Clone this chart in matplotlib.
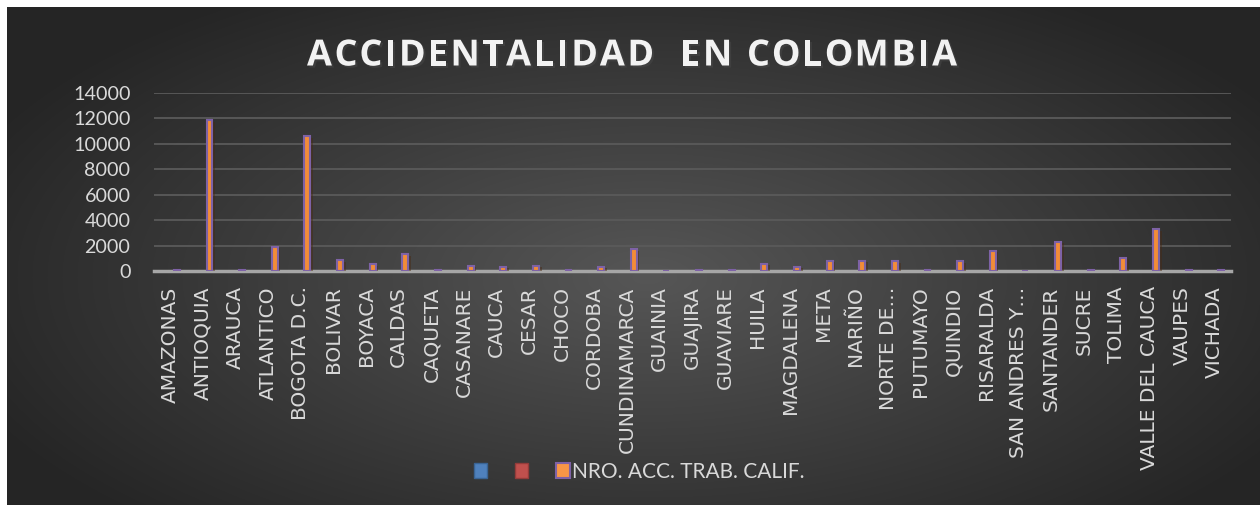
import numpy as np
import matplotlib.pyplot as plt
import matplotlib.patheffects as pe
from matplotlib.patches import Patch, Rectangle

departamentos = ['AMAZONAS', 'ANTIOQUIA', 'ARAUCA', 'ATLANTICO', 'BOGOTA D.C.',
                 'BOLIVAR', 'BOYACA', 'CALDAS', 'CAQUETA', 'CASANARE', 'CAUCA',
                 'CESAR', 'CHOCO', 'CORDOBA', 'CUNDINAMARCA', 'GUAINIA', 'GUAJIRA',
                 'GUAVIARE', 'HUILA', 'MAGDALENA', 'META', 'NARIÑO', 'NORTE DE…',
                 'PUTUMAYO', 'QUINDIO', 'RISARALDA', 'SAN ANDRES Y…', 'SANTANDER',
                 'SUCRE', 'TOLIMA', 'VALLE DEL CAUCA', 'VAUPES', 'VICHADA']

nro_acc = [60, 11850, 60, 1880, 10580, 850, 540, 1300, 100, 430, 320, 430, 90,
           320, 1700, 20, 40, 60, 580, 345, 820, 820, 770, 40, 770, 1590, 20,
           2280, 60, 1030, 3285, 50, 60]

leyenda = ['', '', 'NRO. ACC. TRAB. CALIF.']
y_ticks = [0, 2000, 4000, 6000, 8000, 10000, 12000, 14000]
titulo = 'ACCIDENTALIDAD  EN COLOMBIA'

W, H = 1260, 505
fig = plt.figure(figsize=(W / 100, H / 100), dpi=100, facecolor='white')

# fondo con degradado radial
fig.patches.append(Rectangle((7 / W, 0), 1, 1 - 7 / H, transform=fig.transFigure,
                             facecolor='#262626', edgecolor='none', zorder=-10))
bg = fig.add_axes([7 / W, 0, 1 - 7 / W, 1 - 7 / H])
bg.set_axis_off()
yy, xx = np.mgrid[0:498, 0:1253]
r = np.sqrt(((xx - 640) / 720) ** 2 + ((yy - 270) / 330) ** 2)
r = np.clip(r, 0, 1)
c = (0x56 + (0x26 - 0x56) * r) / 255
bg.imshow(np.dstack([c, c, c]), aspect='auto', extent=[0, 1, 0, 1])
bg.set_xlim(0, 1)
bg.set_ylim(0, 1)

ax = fig.add_axes([154 / W, 1 - 271 / H, (1231 - 154) / W, (271 - 93) / H])
ax.set_facecolor('none')

x = np.arange(len(departamentos))
ax.bar(x + 0.2, nro_acc, width=0.18, color='#F28C38', edgecolor='#7E62A6',
       linewidth=1.5, zorder=3,
       path_effects=[pe.SimplePatchShadow(offset=(2, -1), alpha=0.45), pe.Normal()])

ax.set_xlim(-0.5, len(departamentos) - 0.5)
ax.set_ylim(0, 14000)
ax.set_yticks(y_ticks)
ax.set_yticklabels([str(v) for v in y_ticks], family='Lato', fontsize=14.2,
                   color='#d9d9d9')
ax.set_xticks(x)
ax.set_xticklabels(departamentos, rotation=90, family='DejaVu Sans',
                   fontsize=14.5, color='#d9d9d9')
ax.tick_params(axis='y', length=0, pad=17)
ax.tick_params(axis='x', length=0, pad=11)

ax.yaxis.grid(True, color='#5a5a5a', linewidth=1.3, zorder=0)
ax.set_axisbelow(True)
for s in ['top', 'right', 'left']:
    ax.spines[s].set_visible(False)
ax.spines['bottom'].set_color('#a6a6a6')
ax.spines['bottom'].set_linewidth(2.5)

# titulo con espaciado entre letras
renderer = fig.canvas.get_renderer()
tprops = dict(family='Open Sans', fontweight='bold', fontsize=26)


def ancho(s):
    t = fig.text(0, 0, s, **tprops)
    w = t.get_window_extent(renderer).width
    t.remove()
    return w


base = ancho('XX')
anchos = [ancho('X' + ch + 'X') - base for ch in titulo]
x0, x1 = 307, 957
extra = (x1 - x0 - sum(anchos)) / (len(titulo) - 1)
pos = x0
for ch, w in zip(titulo, anchos):
    if ch != ' ':
        fig.text(pos / W, 1 - 65.5 / H, ch, color='#f2f2f2', ha='left',
                 va='baseline',
                 path_effects=[pe.withSimplePatchShadow(offset=(1.5, -1.5), alpha=0.5)],
                 **tprops)
    pos += w + extra

handles = [Patch(facecolor='#4F81BD', edgecolor='#3A6494'),
           Patch(facecolor='#C0504D', edgecolor='#943C3A'),
           Patch(facecolor='#F79646', edgecolor='#7E62A6', linewidth=1.5)]
fig.legend(handles, leyenda, loc='center', bbox_to_anchor=(639 / W, 1 - 472 / H),
           ncol=3, frameon=False, prop={'family': 'Lato', 'size': 15},
           labelcolor='#d9d9d9', handlelength=0.63, handleheight=0.7,
           handletextpad=0.1, columnspacing=1.25, borderpad=0)

fig.savefig('out.png', dpi=100, facecolor='white')
